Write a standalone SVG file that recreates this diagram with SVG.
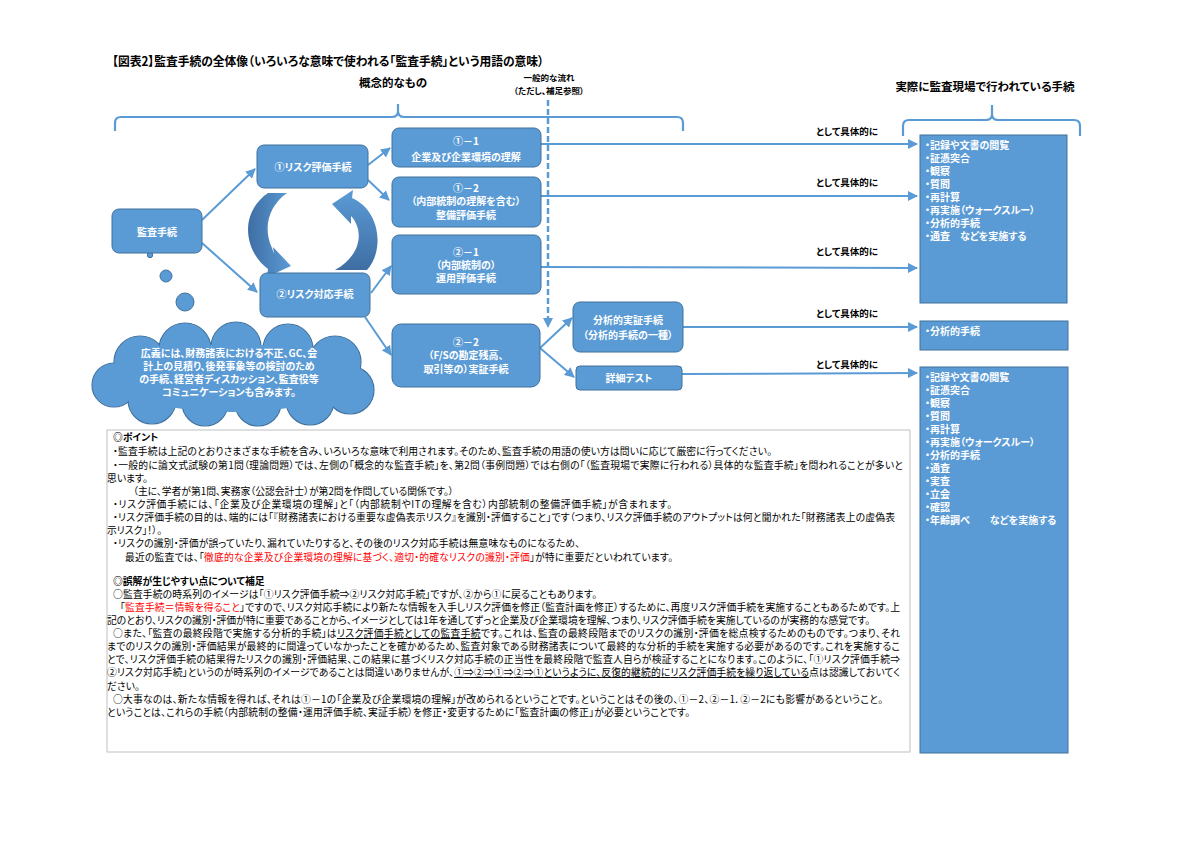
<svg xmlns="http://www.w3.org/2000/svg" width="1200" height="849" viewBox="0 0 1200 849">
<defs>
<style>
text{font-family:"Noto Sans CJK JP","Noto Sans CJK SC",sans-serif;font-feature-settings:"palt";}
.node{fill:#5b9bd5;stroke:#41719c;stroke-width:1}
.nt{fill:#fff;font-size:10px;font-weight:bold;text-anchor:middle}
.bt{fill:#fff;font-size:10px;font-weight:bold}
.lab{fill:#000;font-size:9.5px;font-weight:bold;text-anchor:middle}
.hd{fill:#000;font-size:11.5px;font-weight:bold;text-anchor:middle}
.body{fill:#000;font-size:9.8px}
.red{fill:#ff0000}
.con{stroke:#5b9bd5;stroke-width:2;fill:none}
.brace{stroke:#5b9bd5;stroke-width:2.2;fill:none}
.box{fill:#5b9bd5;stroke:#41719c;stroke-width:1}
</style>
<marker id="ah" viewBox="0 0 10 10" refX="9" refY="5" markerWidth="5" markerHeight="5" orient="auto">
<path d="M0,0 L10,5 L0,10 z" fill="#5b9bd5"/>
</marker>
<linearGradient id="gL" x1="0" y1="0" x2="1" y2="0">
<stop offset="0" stop-color="#3e6ea3"/><stop offset="1" stop-color="#5b9bd5"/>
</linearGradient>
<linearGradient id="gR" x1="0" y1="1" x2="0" y2="0">
<stop offset="0" stop-color="#3e6ea3"/><stop offset="1" stop-color="#5b9bd5"/>
</linearGradient>
</defs>
<rect width="1200" height="849" fill="#ffffff"/>

<text x="112" y="66" textLength="432" lengthAdjust="spacingAndGlyphs" style="font-size:12.5px;font-weight:bold;fill:#000">【図表2】監査手続の全体像（いろいろな意味で使われる「監査手続」という用語の意味）</text>

<g id="headings">
<text class="hd" x="393" y="87">概念的なもの</text>
<text class="lab" x="549" y="81" style="font-size:8.5px">一般的な流れ</text>
<text class="lab" x="549" y="94" style="font-size:8.5px">（ただし、補足参照）</text>
<text class="hd" x="985" y="91">実際に監査現場で行われている手続</text>
</g>

<g id="braces">
<path class="brace" d="M115,131 L115,123 Q115,117 121,117 L392,117 Q398,117 398,111 L398,104 L398,111 Q398,117 404,117 L677,117 Q683,117 683,123 L683,131"/>
<path class="brace" d="M903,136 L903,126 Q903,120 909,120 L986,120 Q992,120 992,114 L992,105 L992,114 Q992,120 998,120 L1074,120 Q1080,120 1080,126 L1080,136"/>
</g>

<g id="connectors">
<line class="con" x1="202" y1="220" x2="255" y2="169" marker-end="url(#ah)"/>
<line class="con" x1="202" y1="243" x2="257" y2="292" marker-end="url(#ah)"/>
<line class="con" x1="368" y1="165" x2="390" y2="148" marker-end="url(#ah)"/>
<line class="con" x1="368" y1="180" x2="389" y2="200" marker-end="url(#ah)"/>
<line class="con" x1="371" y1="293" x2="391" y2="266" marker-end="url(#ah)"/>
<line class="con" x1="365" y1="317" x2="391" y2="355" marker-end="url(#ah)"/>
<line class="con" x1="540" y1="348" x2="572" y2="318" marker-end="url(#ah)"/>
<line class="con" x1="540" y1="348" x2="574" y2="377" marker-end="url(#ah)"/>
<line class="con" x1="541" y1="144" x2="917" y2="144" marker-end="url(#ah)"/>
<line class="con" x1="541" y1="196" x2="917" y2="196" marker-end="url(#ah)"/>
<line class="con" x1="541" y1="267" x2="917" y2="268" marker-end="url(#ah)"/>
<line class="con" x1="683" y1="327" x2="917" y2="327" marker-end="url(#ah)"/>
<line class="con" x1="682" y1="374" x2="917" y2="373" marker-end="url(#ah)"/>
<line x1="548" y1="100" x2="548" y2="320" stroke="#5b9bd5" stroke-width="2.5" stroke-dasharray="6,3"/>
<path d="M543,318 L553,318 L548,328 z" fill="#5b9bd5"/>
</g>

<g id="labels">
<text class="lab" x="847" y="135">として具体的に</text>
<text class="lab" x="847" y="186">として具体的に</text>
<text class="lab" x="847" y="255">として具体的に</text>
<text class="lab" x="847" y="317">として具体的に</text>
<text class="lab" x="847" y="368">として具体的に</text>
</g>

<g id="cycle">
<path d="M268,193 L287,193 C270,205 262,226 272,248 L274,254 L273,247 L291,266 L267,277 L268,269 C245,252 238,214 268,193 Z" fill="url(#gL)"/>
<path d="M335,270 L367,270 C385,250 380,210 352,198 L353,190 L332,204 L351,224 L351,216 C364,230 362,255 335,270 Z" fill="url(#gR)"/>
</g>

<g id="bubbles">
<circle cx="150" cy="255" r="2.7" class="node"/>
<circle cx="166" cy="276" r="6" class="node"/>
<circle cx="185" cy="302" r="9" class="node"/>
</g>

<g id="cloud">
<g stroke="#41719c" stroke-width="1.2" fill="#5b9bd5">
<circle cx="140" cy="362" r="26"/>
<circle cx="185" cy="349" r="26"/>
<circle cx="236" cy="347" r="25"/>
<circle cx="288" cy="349" r="25"/>
<circle cx="335" cy="362" r="26"/>
<circle cx="350" cy="390" r="24"/>
<circle cx="310" cy="401" r="24"/>
<circle cx="258" cy="403" r="23"/>
<circle cx="205" cy="403" r="23"/>
<circle cx="152" cy="400" r="24"/>
<circle cx="114" cy="385" r="22"/>
</g>
<g fill="#5b9bd5">
<circle cx="140" cy="362" r="25.4"/>
<circle cx="185" cy="349" r="25.4"/>
<circle cx="236" cy="347" r="24.4"/>
<circle cx="288" cy="349" r="24.4"/>
<circle cx="335" cy="362" r="25.4"/>
<circle cx="350" cy="390" r="23.4"/>
<circle cx="310" cy="401" r="23.4"/>
<circle cx="258" cy="403" r="22.4"/>
<circle cx="205" cy="403" r="22.4"/>
<circle cx="152" cy="400" r="23.4"/>
<circle cx="114" cy="385" r="21.4"/>
<ellipse cx="232" cy="378" rx="118" ry="34"/>
</g>
<text class="nt" x="229" y="357">広義には、財務諸表における不正、GC、会</text>
<text class="nt" x="229" y="370">計上の見積り、後発事象等の検討のため</text>
<text class="nt" x="229" y="383">の手続、経営者ディスカッション、監査役等</text>
<text class="nt" x="229" y="396">コミュニケーションも含みます。</text>
</g>

<g id="n-audit"><rect class="node" x="112" y="209" width="90" height="44" rx="7"/><text class="nt" x="157" y="236">監査手続</text></g>
<g id="n-risk-assess"><rect class="node" x="257" y="145" width="111" height="43" rx="7"/><text class="nt" x="313" y="171">①リスク評価手続</text></g>
<g id="n-risk-resp"><rect class="node" x="260" y="273" width="110" height="44" rx="7"/><text class="nt" x="315" y="298">②リスク対応手続</text></g>
<g id="n-1-1"><rect class="node" x="392" y="128" width="149" height="39" rx="7"/><text class="nt" x="466" y="145">①－1</text><text class="nt" x="466" y="161">企業及び企業環境の理解</text></g>
<g id="n-1-2"><rect class="node" x="392" y="177" width="149" height="50" rx="7"/><text class="nt" x="466" y="192">①－2</text><text class="nt" x="466" y="205">（内部統制の理解を含む）</text><text class="nt" x="466" y="219">整備評価手続</text></g>
<g id="n-2-1"><rect class="node" x="392" y="235" width="149" height="59" rx="7"/><text class="nt" x="466" y="256">②－1</text><text class="nt" x="466" y="269">（内部統制の）</text><text class="nt" x="466" y="282">運用評価手続</text></g>
<g id="n-2-2"><rect class="node" x="392" y="324" width="148" height="63" rx="9"/><text class="nt" x="466" y="346">②－2</text><text class="nt" x="466" y="359">（F/Sの勘定残高、</text><text class="nt" x="466" y="373">取引等の）実証手続</text></g>
<g id="n-analytic"><rect class="node" x="573" y="302" width="110" height="50" rx="7"/><text class="nt" x="628" y="324">分析的実証手続</text><text class="nt" x="628" y="339">（分析的手続の一種）</text></g>
<g id="n-detail"><rect class="node" x="576" y="366" width="106" height="24" rx="4"/><text class="nt" x="629" y="382">詳細テスト</text></g>

<g id="box1"><rect class="box" x="920" y="135" width="147" height="168"/>
<text class="bt" x="925" y="149">・記録や文書の閲覧</text>
<text class="bt" x="925" y="162">・証憑突合</text>
<text class="bt" x="925" y="175">・観察</text>
<text class="bt" x="925" y="188">・質問</text>
<text class="bt" x="925" y="201">・再計算</text>
<text class="bt" x="925" y="214">・再実施（ウォークスルー）</text>
<text class="bt" x="925" y="227">・分析的手続</text>
<text class="bt" x="925" y="240">・通査　などを実施する</text>
</g>
<g id="box2"><rect class="box" x="920" y="321" width="148" height="29"/>
<text class="bt" x="925" y="335">・分析的手続</text>
</g>
<g id="box3"><rect class="box" x="920" y="367" width="148" height="386"/>
<text class="bt" x="925" y="381">・記録や文書の閲覧</text>
<text class="bt" x="925" y="394">・証憑突合</text>
<text class="bt" x="925" y="407">・観察</text>
<text class="bt" x="925" y="420">・質問</text>
<text class="bt" x="925" y="433">・再計算</text>
<text class="bt" x="925" y="446">・再実施（ウォークスルー）</text>
<text class="bt" x="925" y="459">・分析的手続</text>
<text class="bt" x="925" y="472">・通査</text>
<text class="bt" x="925" y="485">・実査</text>
<text class="bt" x="925" y="498">・立会</text>
<text class="bt" x="925" y="511">・確認</text>
<text class="bt" x="925" y="524">・年齢調べ　　などを実施する</text>
</g>

<g id="notes">
<rect x="107" y="430" width="803" height="322" fill="#ffffff" stroke="#bfbfbf" stroke-width="1"/>
<text class="body" x="113" y="441" style="font-weight:bold">◎ポイント</text>
<text class="body" x="113" y="455" textLength="659">・監査手続は上記のとおりさまざまな手続を含み、いろいろな意味で利用されます。そのため、監査手続の用語の使い方は問いに応じて厳密に行ってください。</text>
<text class="body" x="113" y="469" textLength="790">・一般的に論文式試験の第1問（理論問題）では、左側の「概念的な監査手続」を、第2問（事例問題）では右側の「（監査現場で実際に行われる）具体的な監査手続」を問われることが多いと</text>
<text class="body" x="107" y="482">思います。</text>
<text class="body" x="133" y="495">（主に、学者が第1問、実務家（公認会計士）が第2問を作問している関係です。）</text>
<text class="body" x="113" y="508" textLength="559">・リスク評価手続には、「企業及び企業環境の理解」と「（内部統制やITの理解を含む）内部統制の整備評価手続」が含まれます。</text>
<text class="body" x="113" y="521" textLength="782">・リスク評価手続の目的は、端的には「『財務諸表における重要な虚偽表示リスク』を識別・評価すること」です（つまり、リスク評価手続のアウトプットは何と聞かれた「財務諸表上の虚偽表</text>
<text class="body" x="107" y="534">示リスク」！）。</text>
<text class="body" x="113" y="547" textLength="467">・リスクの識別・評価が誤っていたり、漏れていたりすると、その後のリスク対応手続は無意味なものになるため、</text>
<text class="body" x="125" y="561" textLength="548">最近の監査では、「<tspan class="red">徹底的な企業及び企業環境の理解に基づく、適切・的確なリスクの識別・評価</tspan>」が特に重要だといわれています。</text>

<text class="body" x="113" y="585" style="font-weight:bold">◎誤解が生じやすい点について補足</text>
<text class="body" x="113" y="598" textLength="484">○監査手続の時系列のイメージは「①リスク評価手続⇒②リスク対応手続」ですが、②から①に戻ることもあります。</text>
<text class="body" x="120" y="611" textLength="780">「<tspan class="red">監査手続＝情報を得ること</tspan>」ですので、リスク対応手続により新たな情報を入手しリスク評価を修正（監査計画を修正）するために、再度リスク評価手続を実施することもあるためです。上</text>
<text class="body" x="107" y="624" textLength="763">記のとおり、リスクの識別・評価が特に重要であることから、イメージとしては1年を通してずっと企業及び企業環境を理解、つまり、リスク評価手続を実施しているのが実務的な感覚です。</text>
<text class="body" x="113" y="637" textLength="787">○また、「監査の最終段階で実施する分析的手続」は<tspan text-decoration="underline">リスク評価手続としての監査手続</tspan>です。これは、監査の最終段階までのリスクの識別・評価を総点検するためのものです。つまり、それ</text>
<text class="body" x="107" y="650" textLength="793">までのリスクの識別・評価結果が最終的に間違っていなかったことを確かめるため、監査対象である財務諸表について最終的な分析的手続を実施する必要があるのです。これを実施するこ</text>
<text class="body" x="107" y="663" textLength="793">とで、リスク評価手続の結果得たリスクの識別・評価結果、この結果に基づくリスク対応手続の正当性を最終段階で監査人自らが検証することになります。このように、「①リスク評価手続⇒</text>
<text class="body" x="107" y="676" textLength="793">②リスク対応手続」というのが時系列のイメージであることは間違いありませんが、<tspan text-decoration="underline">①⇒②⇒①⇒②⇒①というように、反復的継続的にリスク評価手続を繰り返している</tspan>点は認識しておいてく</text>
<text class="body" x="107" y="690">ださい。</text>
<text class="body" x="113" y="703" textLength="770">○大事なのは、新たな情報を得れば、それは①－1の「企業及び企業環境の理解」が改められるということです。ということはその後の、①－2、②－1．②－2にも影響があるということ。</text>
<text class="body" x="107" y="716" textLength="583">ということは、これらの手続（内部統制の整備・運用評価手続、実証手続）を修正・変更するために「監査計画の修正」が必要ということです。</text>
</g>
</svg>
